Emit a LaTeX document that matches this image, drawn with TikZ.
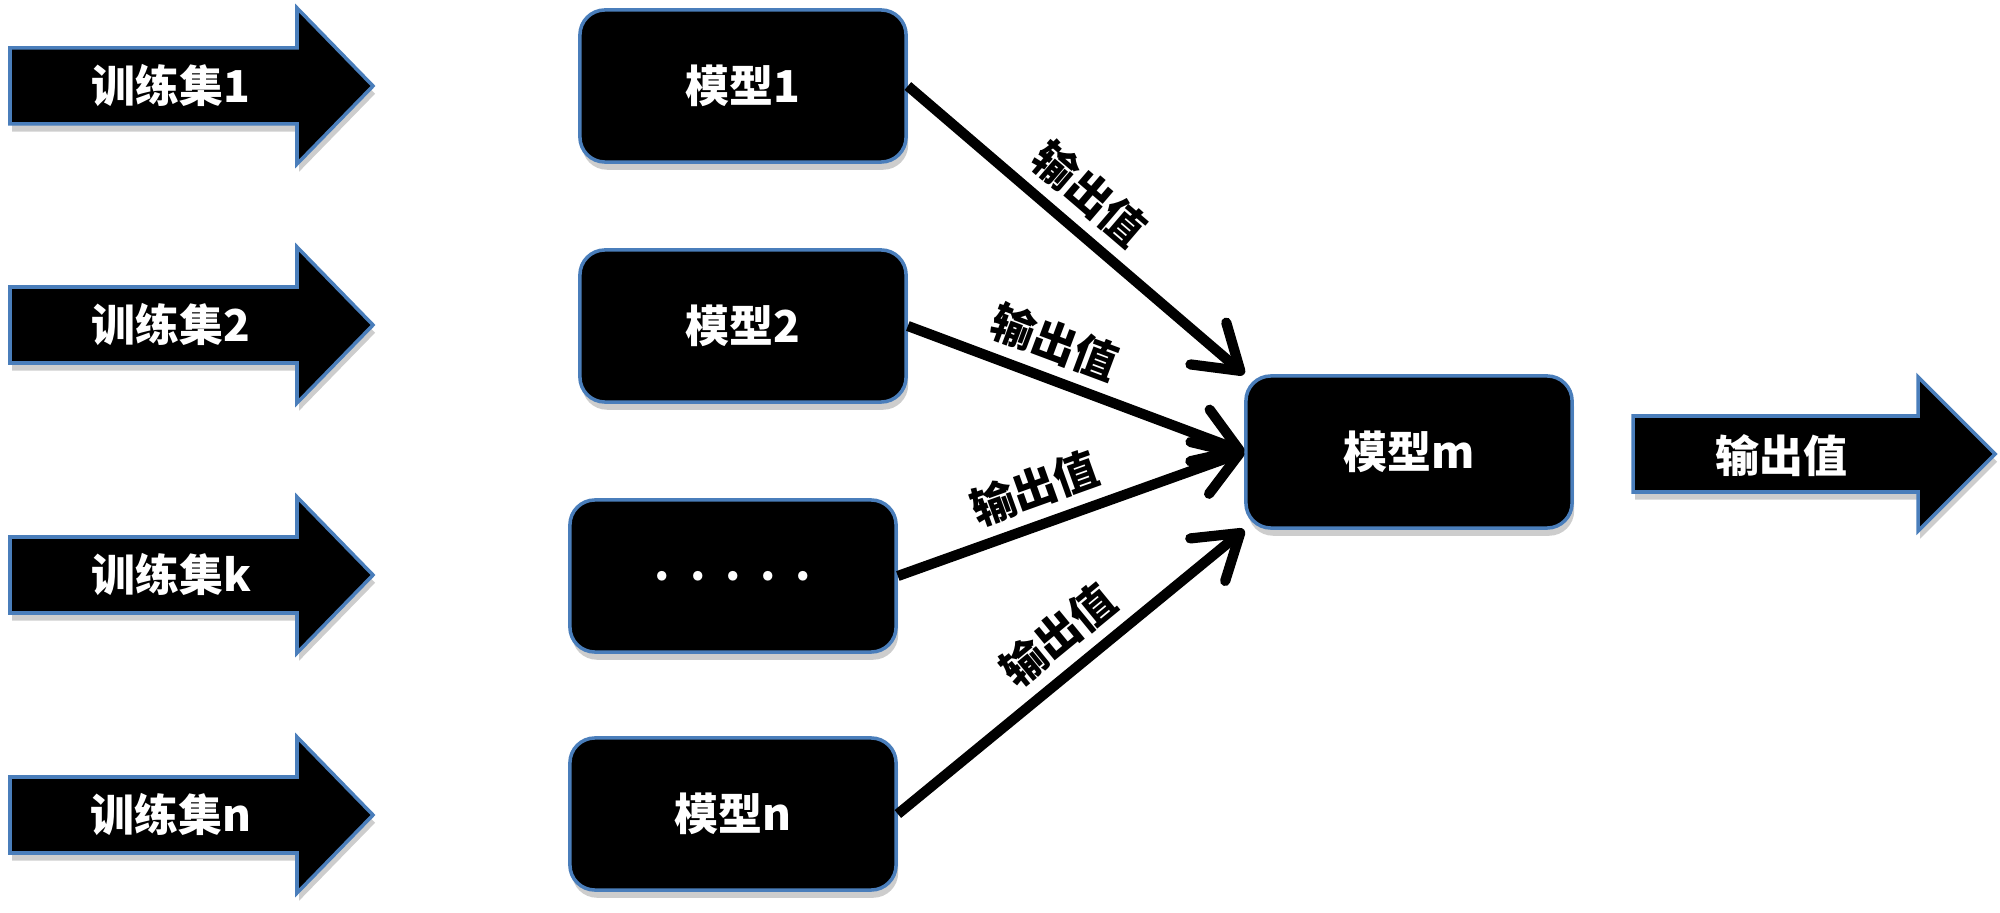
\documentclass[tikz,border=0pt]{standalone}
\usepackage{fontspec}
\setmainfont{Noto Sans CJK SC}
\usetikzlibrary{arrows.meta,shadows}
\definecolor{edgeblue}{HTML}{4A7EBB}
\newcommand\diagfont{\fontsize{12.5}{15}\selectfont\bfseries}
\begin{document}
\begin{tikzpicture}[x=0.01cm,y=-0.01cm,
  shadowed/.style={drop shadow={shadow xshift=0.6pt,shadow yshift=-2.2pt,opacity=0.28,fill=black!70}},
  model/.style={draw=edgeblue,line width=1pt,fill=black,rounded corners=0.25cm,
    minimum width=3.26cm,minimum height=1.52cm,text=white,font=\diagfont,shadowed},
  bigarrow/.style={draw=edgeblue,line width=1pt,fill=black,line join=miter,shadowed},
  arrowtext/.style={text=white,font=\diagfont,inner sep=0pt},
  conn/.style={line width=2.9pt,-{Straight Barb[length=0.42cm,width=0.55cm,round]}},
  lbl/.style={font=\diagfont,text=black,sloped,above,inner sep=3pt}]
\useasboundingbox (0,0) rectangle (2000,913);

% input arrows
\foreach \cy/\nm/\txt in {86/t1/训练集1,325/t2/训练集2,575/tk/训练集k,815/tn/训练集n}{
  \draw[bigarrow] (10,\cy-38) -- (297,\cy-38) -- (297,\cy-78) -- (373,\cy)
     -- (297,\cy+78) -- (297,\cy+38) -- (10,\cy+38) -- cycle;
  \node[arrowtext] (\nm) at (171,\cy) {\txt};
}

% models
\node[model] (m1) at (743,86) {模型1};
\node[model] (m2) at (743,326) {模型2};
\node[model] (mk) at (733,576) {.\hspace{0.45em}.\hspace{0.45em}.\hspace{0.45em}.\hspace{0.45em}.};
\node[model] (mn) at (733,814) {模型n};
\node[model] (mm) at (1409,452) {模型m};

% connectors
\draw[conn] (m1.east) -- (mm.north west) node[lbl,pos=0.47] {输出值};
\draw[conn] (m2.east) -- (mm.west) node[lbl,pos=0.40] {输出值};
\draw[conn] (mk.east) -- (mm.west) node[lbl,pos=0.43] {输出值};
\draw[conn] (mn.east) -- (mm.south west) node[lbl,pos=0.53] {输出值};

% output arrow
\draw[bigarrow] (1633,416) -- (1918,416) -- (1918,377) -- (1995,454)
   -- (1918,531) -- (1918,492) -- (1633,492) -- cycle;
\node[arrowtext] (out) at (1781,456) {输出值};
\end{tikzpicture}
\end{document}
